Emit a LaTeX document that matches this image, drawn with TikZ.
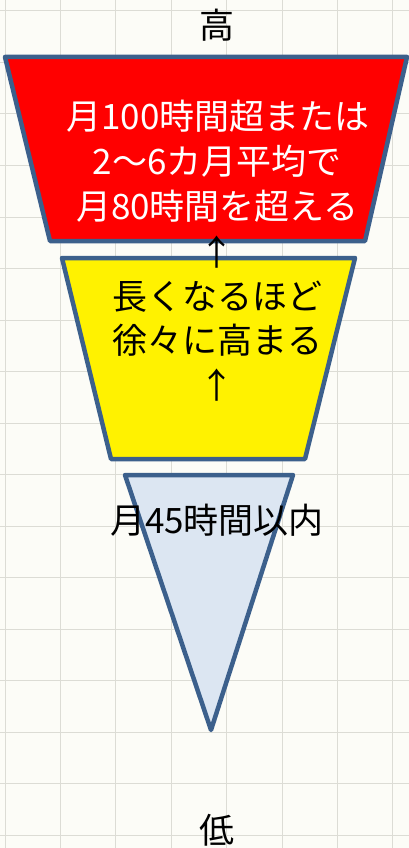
\documentclass[tikz,border=0pt]{standalone}
\usepackage{fontspec}
\newfontfamily\jp{Noto Sans CJK JP}
\definecolor{edgeblue}{RGB}{60,96,140}
\definecolor{tribg}{RGB}{220,230,242}
\definecolor{paper}{RGB}{252,252,247}
\definecolor{gridc}{RGB}{220,220,213}
\begin{document}
\begin{tikzpicture}[x=1pt,y=-1pt,
  shapebox/.style={draw=edgeblue,line width=4.5pt,line join=round},
  lbl/.style={anchor=base,inner sep=0pt,font=\jp\fontsize{35}{44}\selectfont},
  wlbl/.style={lbl,text=white}]
\useasboundingbox (0,0) rectangle (409,848);
\fill[paper] (0,0) rectangle (409,848);
% grid
\foreach \i in {0,...,7} {\draw[gridc,line width=1pt] ({5+55.4*\i},0) -- ({5+55.4*\i},848);}
\foreach \j in {0,...,16} {\draw[gridc,line width=1pt] (0,{11+51.5*\j}) -- (409,{11+51.5*\j});}
% shapes
\draw[shapebox,fill=red] (5,57) -- (407,57) -- (365,241) -- (50,241) -- cycle;
\draw[shapebox,fill=yellow] (62,258) -- (355,258) -- (305,459) -- (111,459) -- cycle;
\draw[shapebox,fill=tribg] (125,475) -- (293,475) -- (211,730) -- cycle;
% labels
\node[lbl] (hi) at (217,39) {高};
\node[wlbl] (r1) at (218,129) {月100時間超または};
\node[wlbl] (r2) at (217,174) {2〜6カ月平均で};
\node[wlbl] (r3) at (217.5,219) {月80時間を超える};
\node[lbl] (a1) at (217,265) {↑};
\node[lbl] (y1) at (217,309) {長くなるほど};
\node[lbl] (y2) at (217.5,353) {徐々に高まる};
\node[lbl] (a2) at (217,398) {↑};
\node[lbl] (t1) at (217,533) {月45時間以内};
\node[lbl] (lo) at (217,843) {低};
\end{tikzpicture}
\end{document}
